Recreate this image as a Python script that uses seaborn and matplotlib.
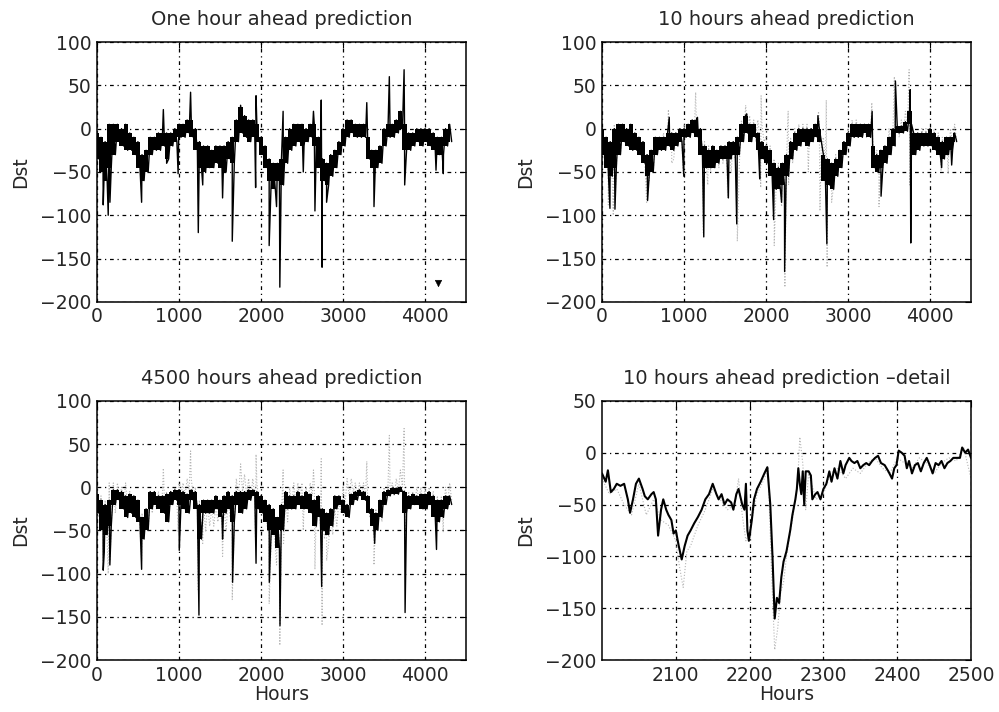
import matplotlib
matplotlib.use("Agg")
import matplotlib.pyplot as plt
import numpy as np
import pandas as pd
import seaborn as sns

# hour bins (50 h) for the full-length series, low / high of the trace in each bin
hours = np.arange(0, 4301, 50)

# observed Dst (= one hour ahead prediction, top left)
dst_lo = [-35, -50, -60, -45, -30, -15, -20, -25, -25, -30,
          -45, -60, -50, -30, -25, -25, -20, -35, -20, -15,
          -10, -10, -5, -10, -25, -45, -50, -45, -45, -40,
          -45, -50, -35, -40, -15, -5, -10, -15, -10, -15,
          -30, -45, -60, -70, -60, -65, -40, -25, -20, -15,
          -20, -15, -10, -20, -45, -60, -65, -55, -45, -30,
          -20, -10, -5, -10, -10, -10, -35, -45, -45, -40,
          -20, -10, -10, -5, 0, -25, -25, -20, -15, -20,
          -15, -20, -25, -30, -30, -20, -15]
dst_hi = [-5, -10, -15, 5, 5, 5, 0, 5, -5, -10,
          -15, -30, -25, -10, -10, -5, -5, -5, -5, 0,
          5, 5, 10, 10, 0, -15, -20, -20, -25, -20,
          -20, -20, -15, -10, 10, 25, 15, 10, 10, 5,
          -10, -20, -35, -40, -40, -35, -10, 0, 5, 5,
          5, 0, 5, 5, -10, -35, -40, -30, -25, -15,
          0, 10, 10, 5, 5, 5, -10, -25, -25, -20,
          0, 5, 5, 10, 20, 5, -5, -5, 0, 0,
          0, 0, -5, -10, -10, 0, 5]
dst_spike_h = [77, 138, 159, 545, 810, 850, 990, 1142, 1236, 1290, 1532, 1650,
               1752, 1935, 1940, 2100, 2190, 2230, 2270, 2516, 2640, 2658, 2735,
               2745, 2800, 3290, 3378, 3565, 3745, 3752, 4134, 4223]
dst_spike_v = [-88, -100, -85, -85, 22, -40, -52, 42, -120, -65, -80, -130,
               27, -68, 38, -135, -90, -183, 20, -50, 20, -95, 33,
               -160, -85, 30, -90, 60, 68, -65, -48, -52]

# 10 hours ahead prediction
p10_lo = [-30, -45, -55, -45, -30, -15, -20, -25, -25, -30,
          -40, -55, -50, -30, -25, -25, -20, -25, -20, -15,
          -10, -10, -5, -10, -30, -45, -45, -45, -40, -35,
          -35, -35, -30, -30, -15, -5, -15, -10, -25, -35,
          -40, -55, -70, -70, -65, -55, -35, -25, -20, -15,
          -20, -15, -10, -15, -60, -65, -70, -55, -45, -30,
          -20, -10, -10, -10, -5, -10, -45, -50, -45, -40,
          -30, -20, -5, -5, -3, 5, -30, -25, -20, -20,
          -20, -25, -30, -35, -30, -25, -15]
p10_hi = [0, -10, -15, 0, 5, 5, 0, 5, -5, -10,
          -15, -30, -25, -10, -10, -10, -5, -5, -5, 0,
          0, 5, 10, 10, 0, -20, -25, -20, -25, -20,
          -20, -15, -15, -10, 5, 15, 5, 5, -5, -15,
          -20, -25, -40, -45, -40, -30, -15, -5, 0, 0,
          0, 0, 5, 0, -30, -35, -40, -35, -25, -15,
          -5, 5, 5, 5, 5, 5, -20, -30, -25, -20,
          -10, 0, 3, 3, 8, 20, -5, -5, -5, -5,
          0, -5, -10, -15, -10, -10, -5]
p10_spike_h = [97, 158, 556, 820, 998, 1164, 1241, 1541, 1643, 1765, 1923, 2093,
               2190, 2227, 2633, 2742, 3294, 3403, 3578, 3758, 3765, 4142, 4264]
p10_spike_v = [-92, -93, -83, 13, -55, 13, -125, -80, -110, 17, -58, -105,
               -85, -165, 15, -133, 20, -78, 55, 45, -132, -45, -42]

# 4500 hours ahead prediction
p4500_lo = [-30, -50, -55, -45, -20, -15, -25, -35, -30, -35,
            -40, -60, -50, -25, -20, -25, -30, -40, -20, -15,
            -20, -25, -30, -15, -25, -60, -30, -30, -30, -25,
            -35, -30, -25, -40, -20, -30, -25, -15, -10, -25,
            -30, -40, -50, -55, -70, -50, -25, -25, -25, -20,
            -25, -25, -30, -45, -35, -50, -55, -45, -25, -20,
            -30, -35, -20, -15, -10, -15, -30, -45, -50, -35,
            -20, -10, -8, -8, -5, -30, -25, -20, -20, -25,
            -25, -20, -35, -40, -35, -25, -20]
p4500_hi = [-8, -15, -20, -15, -3, -3, -5, -10, -8, -10,
            -15, -35, -25, -5, -5, -10, -10, -8, -5, -3,
            -3, -5, -8, -3, -5, -20, -15, -15, -15, -10,
            -15, -10, -5, -10, -5, -5, -5, -3, -3, -5,
            -10, -15, -20, -25, -35, -20, -5, -10, -10, -5,
            -10, -5, -8, -15, -10, -25, -30, -25, -10, -10,
            -15, -20, -8, -5, -3, -5, -10, -25, -30, -15,
            -5, -3, -1, -1, 0, -5, -10, -8, -10, -8,
            -8, -5, -10, -15, -15, -10, -10]
p4500_spike_h = [77, 90, 158, 545, 1004, 1244, 1532, 1654, 1940, 2102, 2232,
                 2740, 3386, 3757, 4140]
p4500_spike_v = [-96, -75, -90, -95, -73, -148, -60, -110, -88, -110, -160,
                 -115, -65, -145, -72]

# detail 2000-2500 h, 10 hours ahead prediction
det_hours = [2000, 2005, 2008, 2012, 2016, 2020, 2025, 2030, 2035, 2038,
             2042, 2046, 2050, 2055, 2058, 2062, 2067, 2070, 2073, 2076,
             2080, 2083, 2087, 2090, 2094, 2097, 2100, 2104, 2108, 2112,
             2116, 2120, 2125, 2130, 2135, 2140, 2145, 2150, 2155, 2158,
             2162, 2166, 2170, 2175, 2178, 2182, 2185, 2190, 2193, 2195,
             2197, 2199, 2203, 2206, 2210, 2215, 2220, 2224, 2228, 2231,
             2234, 2237, 2240, 2243, 2246, 2250, 2255, 2258, 2262, 2264,
             2266, 2268, 2270, 2272, 2274, 2276, 2280, 2283, 2285, 2289,
             2292, 2296, 2300, 2304, 2308, 2311, 2315, 2319, 2323, 2327,
             2330, 2335, 2338, 2342, 2346, 2350, 2354, 2358, 2362, 2366,
             2370, 2374, 2378, 2383, 2388, 2393, 2396, 2399, 2402, 2406,
             2410, 2413, 2416, 2420, 2424, 2428, 2432, 2436, 2440, 2444,
             2448, 2452, 2456, 2460, 2464, 2468, 2472, 2476, 2480, 2485,
             2488, 2492, 2496, 2500]
det_pred = [-20, -28, -17, -38, -35, -30, -32, -30, -45, -58,
            -45, -30, -25, -35, -42, -45, -40, -38, -45, -80,
            -55, -45, -55, -60, -65, -78, -75, -90, -103, -90,
            -80, -75, -68, -62, -55, -45, -40, -30, -40, -45,
            -40, -50, -45, -48, -55, -40, -35, -50, -55, -30,
            -75, -85, -65, -45, -35, -28, -20, -14, -50, -100,
            -160, -140, -145, -120, -105, -95, -75, -60, -45, -35,
            -15, -30, -40, -18, -50, -18, -18, -22, -45, -40,
            -38, -45, -35, -30, -18, -28, -15, -25, -8, -20,
            -12, -5, -8, -10, -8, -15, -12, -10, -12, -8,
            -5, -3, -10, -12, -18, -25, -15, -12, 2, 0,
            -3, -15, -8, -20, -12, -10, -18, -10, -5, -12,
            -20, -10, -12, -8, -15, -10, -8, -5, -5, -5,
            5, 0, 3, -5]
det_obs_hours = [2000, 2010, 2020, 2030, 2040, 2050, 2060, 2070, 2080, 2090,
                 2100, 2105, 2110, 2115, 2120, 2130, 2140, 2150, 2160, 2170,
                 2180, 2185, 2190, 2195, 2200, 2210, 2220, 2225, 2230, 2234,
                 2238, 2242, 2246, 2250, 2260, 2265, 2268, 2272, 2276, 2280,
                 2290, 2300, 2310, 2320, 2330, 2340, 2350, 2360, 2370, 2380,
                 2390, 2400, 2410, 2420, 2430, 2440, 2450, 2460, 2470, 2480,
                 2490, 2500]
det_obs = [-25, -40, -35, -50, -60, -30, -60, -45, -65, -70,
           -85, -110, -130, -95, -90, -70, -55, -35, -45, -55,
           -50, -25, -60, -85, -75, -40, -25, -15, -120, -190,
           -170, -135, -125, -100, -55, -30, 15, -10, -55, -20,
           -45, -40, -20, -15, -25, -15, -20, -10, -5, -15,
           -20, -5, -10, -15, -5, -10, -20, -10, -5, -8,
           5, -25]

stray_h = [4163]
stray_v = [-178]


def band_frame(lo, hi, spike_h, spike_v):
    # walk the high / low of every bin, then drop the spikes in between
    x, y = [], []
    for h, a, b in zip(hours, lo, hi):
        x += [h, h + 25]
        y += [b, a]
    x += list(spike_h)
    y += list(spike_v)
    df = pd.DataFrame({"Hours": x, "Dst": y})
    return df.sort_values("Hours", kind="stable")


def draw_band(ax, lo, hi, spike_h, spike_v):
    ax.fill_between(hours, lo, hi, step="mid", color="black", lw=0, zorder=2)
    sns.lineplot(data=band_frame(lo, hi, spike_h, spike_v), x="Hours", y="Dst",
                 ax=ax, color="black", lw=1.0, estimator=None, sort=False, zorder=3)


sns.set_style("white")
plt.rcParams["font.family"] = ["DejaVu Sans"]
FS = 13.5

fig = plt.figure(figsize=(9.99, 7.12), dpi=100)
ax_tl = fig.add_axes([0.097, 0.576, 0.3695, 0.365])
ax_tr = fig.add_axes([0.6026, 0.576, 0.3694, 0.365])
ax_bl = fig.add_axes([0.097, 0.073, 0.3695, 0.364])
ax_br = fig.add_axes([0.6026, 0.073, 0.3694, 0.364])

# observed Dst drawn faint and dotted where a prediction sits on top
obs = band_frame(dst_lo, dst_hi, dst_spike_h, dst_spike_v)
grey = dict(color="#b5b5b5", lw=0.8, linestyle=":", estimator=None, sort=False)

# top left
draw_band(ax_tl, dst_lo, dst_hi, dst_spike_h, dst_spike_v)
sns.scatterplot(x=stray_h, y=stray_v, ax=ax_tl, marker="v", s=22, color="black",
                edgecolor="black")

# top right
sns.lineplot(data=obs, x="Hours", y="Dst", ax=ax_tr, **grey)
draw_band(ax_tr, p10_lo, p10_hi, p10_spike_h, p10_spike_v)

# bottom left
sns.lineplot(data=obs, x="Hours", y="Dst", ax=ax_bl, **grey)
draw_band(ax_bl, p4500_lo, p4500_hi, p4500_spike_h, p4500_spike_v)

# bottom right
sns.lineplot(x=det_obs_hours, y=det_obs, ax=ax_br, **grey)
sns.lineplot(x=det_hours, y=det_pred, ax=ax_br, color="black", lw=1.5,
             estimator=None, sort=False)

titles = {ax_tl: "One hour ahead prediction",
          ax_tr: "10 hours ahead prediction",
          ax_bl: "4500 hours ahead prediction",
          ax_br: "10 hours ahead prediction \u2013detail"}

for ax in [ax_tl, ax_tr, ax_bl, ax_br]:
    ax.set_axisbelow(True)
    ax.set_title(titles[ax], fontsize=14, pad=12)
    ax.set_ylabel("Dst", fontsize=FS, labelpad=7)
    if ax in (ax_bl, ax_br):
        ax.set_xlabel("Hours", fontsize=FS, labelpad=0)
    else:
        ax.set_xlabel("")
    if ax is ax_br:
        ax.set_xlim(2000, 2500)
        ax.set_xticks([2100, 2200, 2300, 2400, 2500])
        ax.set_ylim(-200, 50)
        ax.set_yticks([-200, -150, -100, -50, 0, 50])
    else:
        ax.set_xlim(0, 4500)
        ax.set_xticks([0, 1000, 2000, 3000, 4000])
        ax.set_ylim(-200, 100)
        ax.set_yticks([-200, -150, -100, -50, 0, 50, 100])
    ax.set_yticklabels([str(t).replace("-", "\u2212") for t in ax.get_yticks().astype(int)])
    ax.tick_params(labelsize=FS, direction="in", length=4, width=0.8,
                   top=True, right=True, color="black", pad=4)
    ax.grid(True, color="black", linestyle=(0, (3, 3, 1, 3)), linewidth=0.9)
    for s in ax.spines.values():
        s.set_color("black")
        s.set_linewidth(1.1)

fig.savefig("out.png", dpi=100)
